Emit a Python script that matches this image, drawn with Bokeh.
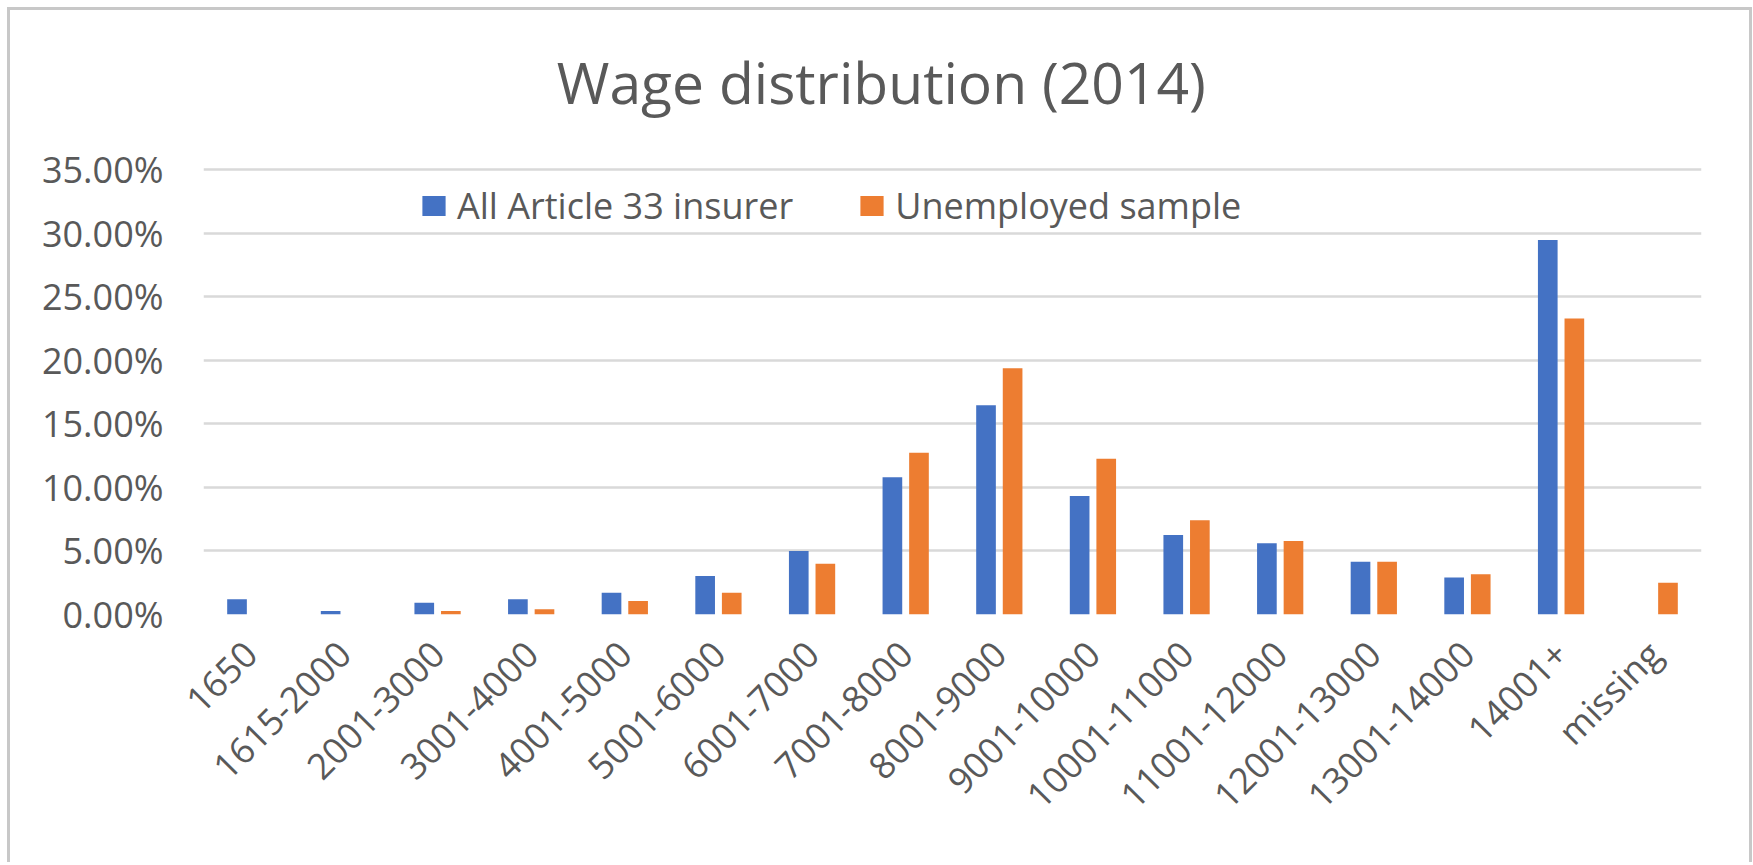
import math
from bokeh.plotting import figure
from bokeh.models import (ColumnDataSource, Legend, LegendItem, FixedTicker,
                          PrintfTickFormatter, Label)
from bokeh.transform import dodge
from bokeh.embed import file_html
from bokeh.resources import INLINE

# ---- data (percent) ----
categories = ["1650", "1615-2000", "2001-3000", "3001-4000", "4001-5000",
              "5001-6000", "6001-7000", "7001-8000", "8001-9000", "9001-10000",
              "10001-11000", "11001-12000", "12001-13000", "13001-14000",
              "14001+", "missing"]
all_article_33 = [1.20, 0.28, 0.93, 1.20, 1.71, 3.03, 5.00, 10.80, 16.45, 9.32,
                  6.25, 5.60, 4.15, 2.90, 29.46, 0.00]
unemployed_sample = [0.00, 0.00, 0.28, 0.41, 1.06, 1.71, 4.00, 12.73, 19.36, 12.25,
                     7.41, 5.78, 4.15, 3.16, 23.27, 2.50]
y_ticks = [0, 5, 10, 15, 20, 25, 30, 35]
series_names = ["All Article 33 insurer", "Unemployed sample"]
title_text = "Wage distribution (2014)"

BLUE = "#4472C4"
ORANGE = "#ED7D31"
TEXT = "#595959"
GRID = "#D9D9D9"
FONT = "Open Sans"

src = ColumnDataSource(dict(cat=categories, a=all_article_33, u=unemployed_sample))

# frame extends up to the top of the chart area so that the title can sit inside it;
# gridlines / tick labels are only drawn for 0..35 %
p = figure(x_range=categories, y_range=(0, 47.5), width=1745, height=855,
           title=None,
           min_border_left=193, min_border_right=54, min_border_top=0,
           min_border_bottom=251, output_backend="svg", toolbar_location=None,
           tools="")
p.styles = {"margin-left": "7px", "margin-top": "7px",
            "border-top": "3px solid #c8c8c8", "border-left": "3px solid #c8c8c8",
            "border-right": "3px solid #c8c8c8"}
p.outline_line_color = None
p.background_fill_color = "white"
p.border_fill_color = "white"

r1 = p.vbar(x=dodge("cat", -0.142, range=p.x_range), top="a", width=0.21,
            source=src, fill_color=BLUE, line_color=None)
r2 = p.vbar(x=dodge("cat", 0.142, range=p.x_range), top="u", width=0.21,
            source=src, fill_color=ORANGE, line_color=None)

p.x_range.range_padding = 0
p.x_range.factor_padding = 0

# title (inside the extended frame, above the 35 % gridline)
p.add_layout(Label(x=7.24, y=41.85, text=title_text, text_align="center",
                   text_baseline="alphabetic", text_font=FONT,
                   text_font_size="57px", text_color=TEXT))

# y axis
p.yaxis.ticker = FixedTicker(ticks=y_ticks)
p.yaxis.formatter = PrintfTickFormatter(format="%.2f%%")
p.yaxis.axis_line_color = None
p.yaxis.major_tick_line_color = None
p.yaxis.major_tick_out = 0
p.yaxis.major_tick_in = 0
p.yaxis.minor_tick_line_color = None
p.yaxis.major_label_text_font = FONT
p.yaxis.major_label_text_font_size = "36px"
p.yaxis.major_label_text_color = TEXT
p.yaxis.major_label_standoff = 40

# x axis
p.xaxis.axis_line_color = None
p.xaxis.major_tick_line_color = None
p.xaxis.major_tick_out = 0
p.xaxis.major_tick_in = 0
p.xaxis.minor_tick_line_color = None
p.xaxis.major_label_orientation = math.pi / 4
p.xaxis.major_label_text_font = FONT
p.xaxis.major_label_text_font_size = "36px"
p.xaxis.major_label_text_color = TEXT
p.xaxis.major_label_standoff = 33

# grid
p.xgrid.grid_line_color = None
p.ygrid.ticker = FixedTicker(ticks=y_ticks)
p.ygrid.grid_line_color = GRID
p.ygrid.grid_line_width = 2.5

# legend
legend = Legend(items=[LegendItem(label=series_names[0], renderers=[r1]),
                       LegendItem(label=series_names[1], renderers=[r2])],
                orientation="horizontal", location=(216, 384),
                glyph_width=29, glyph_height=25, label_standoff=9, spacing=64,
                padding=0, margin=0, border_line_alpha=0,
                background_fill_alpha=0, label_text_font=FONT,
                label_text_font_size="36px", label_text_color=TEXT)
p.add_layout(legend)

open("out.html", "w").write(file_html(p, INLINE))
